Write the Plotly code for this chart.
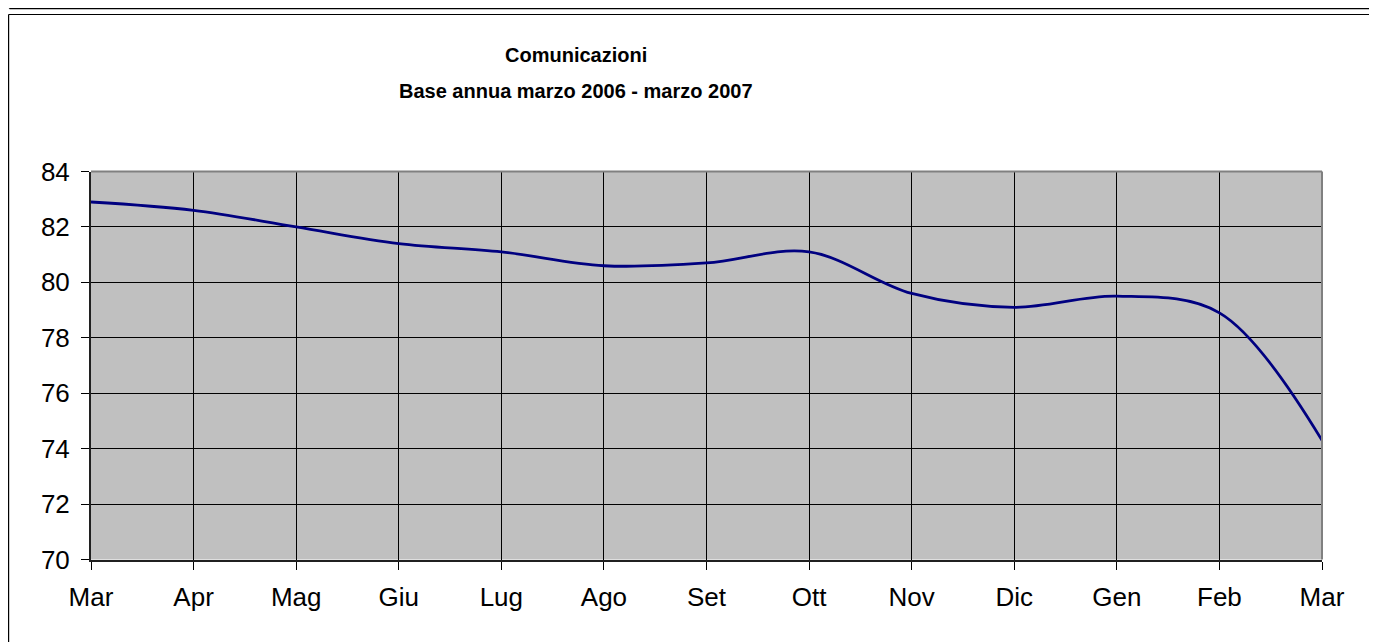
import plotly.graph_objects as go

# dati
mesi = ["Mar", "Apr", "Mag", "Giu", "Lug", "Ago", "Set", "Ott", "Nov", "Dic", "Gen", "Feb", "Mar"]
valori = [82.9, 82.6, 82.0, 81.4, 81.1, 80.6, 80.7, 81.1, 79.6, 79.1, 79.5, 78.9, 74.3]
y_ticks = [70, 72, 74, 76, 78, 80, 82, 84]

# la pagina ha un margine di 8px: la figura parte da (8, 8)
OFF = 8
W, H = 1377 - OFF, 642 - OFF

def px(x):
    return (x - OFF) / W

def py(y):
    return 1 - (y - OFF) / H

x_pos = list(range(len(mesi)))

fig = go.Figure()

fig.add_trace(go.Scatter(
    x=x_pos,
    y=valori,
    mode="lines",
    line=dict(color="#000080", width=2.8, shape="spline", smoothing=1),
    showlegend=False,
    hoverinfo="skip",
))

font = "Liberation Sans, Arial, sans-serif"

fig.update_layout(
    template="none",
    width=W,
    height=H,
    margin=dict(l=0, r=0, t=0, b=0, pad=0),
    paper_bgcolor="white",
    plot_bgcolor="#C0C0C0",
    font=dict(family=font, size=26, color="black"),
    xaxis=dict(
        domain=[px(91), px(1322)],
        range=[0, 12],
        tickvals=x_pos,
        ticktext=mesi,
        automargin=False,
        showgrid=True,
        gridcolor="black",
        gridwidth=1,
        zeroline=False,
        showline=True,
        linecolor="#202020",
        linewidth=2,
        ticks="outside",
        ticklen=8,
        tickcolor="black",
        ticklabelstandoff=5,
    ),
    yaxis=dict(
        domain=[py(559.5), py(171.5)],
        range=[70, 84],
        tickvals=y_ticks,
        automargin=False,
        showgrid=True,
        gridcolor="black",
        gridwidth=1,
        zeroline=False,
        showline=True,
        linecolor="#202020",
        linewidth=2,
        ticks="outside",
        ticklen=8,
        tickcolor="black",
        ticklabelstandoff=6,
    ),
    annotations=[
        dict(text="<b>Comunicazioni</b>", x=px(576), y=py(55), xref="paper", yref="paper",
             showarrow=False, font=dict(size=20), xanchor="center", yanchor="middle"),
        dict(text="<b>Base annua marzo 2006 - marzo 2007</b>", x=px(576), y=py(91),
             xref="paper", yref="paper", showarrow=False, font=dict(size=20),
             xanchor="center", yanchor="middle"),
    ],
    shapes=[
        # bordo grigio dell'area del grafico
        dict(type="line", xref="paper", yref="paper", x0=px(91), x1=px(1322), y0=py(171.5), y1=py(171.5),
             line=dict(color="#808080", width=2)),
        dict(type="line", xref="paper", yref="paper", x0=px(1322), x1=px(1322), y0=py(171.5), y1=py(559.5),
             line=dict(color="#808080", width=2)),
        # cornici esterne
        dict(type="line", xref="paper", yref="paper", x0=px(9.5), x1=1, y0=py(8.6), y1=py(8.6),
             line=dict(color="black", width=1.2)),
        dict(type="line", xref="paper", yref="paper", x0=px(9.5), x1=px(9.5), y0=1, y1=py(8.6),
             line=dict(color="black", width=1.2)),
        dict(type="line", xref="paper", yref="paper", x0=px(8.6), x1=1, y0=py(14.5), y1=py(14.5),
             line=dict(color="black", width=1.2)),
        dict(type="line", xref="paper", yref="paper", x0=px(8.6), x1=px(8.6), y0=py(14.5), y1=0,
             line=dict(color="black", width=1.2)),
    ],
)

fig.write_html("out.html")
